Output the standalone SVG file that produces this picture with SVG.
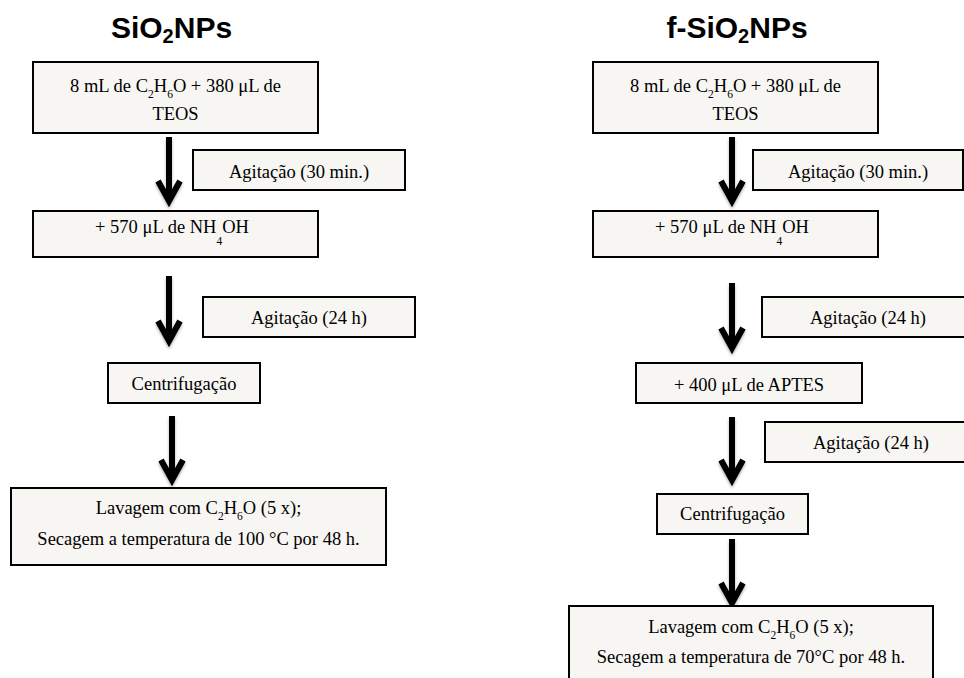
<svg xmlns="http://www.w3.org/2000/svg" width="964" height="678" viewBox="0 0 964 678">
<style>
.title{font-family:"Liberation Sans",Arial,sans-serif;font-weight:bold;font-size:30px;fill:#000;text-anchor:middle}
.box{fill:#f7f6f3;stroke:#000;stroke-width:2}
.t{font-family:"Liberation Serif","Times New Roman",serif;font-size:18.5px;fill:#000;text-anchor:middle}
.sub{font-size:11.5px}
.arrow{fill:none;stroke:#000;stroke-width:6;stroke-linejoin:miter;stroke-linecap:butt}
</style>
<defs>
<filter id="sh" x="-50%" y="-20%" width="200%" height="140%">
<feDropShadow dx="0" dy="2" stdDeviation="1.5" flood-color="#000" flood-opacity="0.3"/>
</filter>
</defs>
<rect width="964" height="678" fill="#fff"/>

<g id="title-left"><text class="title" x="171.5" y="38">SiO<tspan font-size="20" dy="5">2</tspan><tspan dy="-5">NPs</tspan></text></g>
<g id="title-right"><text class="title" x="737" y="38">f-SiO<tspan font-size="20" dy="5">2</tspan><tspan dy="-5">NPs</tspan></text></g>

<g id="connectors" filter="url(#sh)">
<path class="arrow" d="M169 137V200M158 181L169 201L180 181"/>
<path class="arrow" d="M169 276V340M158 321L169 341L180 321"/>
<path class="arrow" d="M172 416V479M161 460L172 480L183 460"/>
<path class="arrow" d="M732 137V200M721 181L732 201L743 181"/>
<path class="arrow" d="M732 283V347M721 328L732 348L743 328"/>
<path class="arrow" d="M732 417V479M721 460L732 480L743 460"/>
<path class="arrow" d="M732 539V602M721 583L732 603L743 583"/>
</g>

<g id="L1"><rect class="box" x="33" y="62" width="285" height="71"/>
<text class="t" x="175.5" y="92">8 mL de C<tspan class="sub" dy="6">2</tspan><tspan dy="-6">H</tspan><tspan class="sub" dy="6">6</tspan><tspan dy="-6">O + 380 μL de</tspan></text>
<text class="t" x="175.5" y="120">TEOS</text></g>
<g id="L-ag1"><rect class="box" x="193" y="150" width="212" height="40"/><text class="t" x="299" y="178">Agitação (30 min.)</text></g>
<g id="L2"><rect class="box" x="33" y="211" width="285" height="46"/>
<text class="t" x="172" y="233">+ 570 μL de NH<tspan class="sub" dy="12">4</tspan><tspan dy="-12">OH</tspan></text></g>
<g id="L-ag2"><rect class="box" x="203" y="297" width="212" height="40"/><text class="t" x="309" y="324">Agitação (24 h)</text></g>
<g id="L3"><rect class="box" x="108" y="363" width="152" height="40"/><text class="t" x="184" y="390">Centrifugação</text></g>
<g id="L4"><rect class="box" x="11" y="488" width="375" height="77"/>
<text class="t" x="198.5" y="514">Lavagem com C<tspan class="sub" dy="6">2</tspan><tspan dy="-6">H</tspan><tspan class="sub" dy="6">6</tspan><tspan dy="-6">O (5 x);</tspan></text>
<text class="t" x="198.5" y="545">Secagem a temperatura de 100 °C por 48 h.</text></g>

<g id="R1"><rect class="box" x="593" y="62" width="285" height="71"/>
<text class="t" x="735.5" y="92">8 mL de C<tspan class="sub" dy="6">2</tspan><tspan dy="-6">H</tspan><tspan class="sub" dy="6">6</tspan><tspan dy="-6">O + 380 μL de</tspan></text>
<text class="t" x="735.5" y="120">TEOS</text></g>
<g id="R-ag1"><rect class="box" x="753" y="150" width="210" height="40"/><text class="t" x="858" y="178">Agitação (30 min.)</text></g>
<g id="R2"><rect class="box" x="593" y="211" width="285" height="46"/>
<text class="t" x="732" y="233">+ 570 μL de NH<tspan class="sub" dy="12">4</tspan><tspan dy="-12">OH</tspan></text></g>
<g id="R-ag2"><rect class="box" x="762" y="297" width="212" height="40"/><text class="t" x="868" y="324">Agitação (24 h)</text></g>
<g id="R3"><rect class="box" x="636" y="363" width="226" height="40"/><text class="t" x="749" y="391">+ 400 μL de APTES</text></g>
<g id="R-ag3"><rect class="box" x="765" y="422" width="212" height="40"/><text class="t" x="871" y="449">Agitação (24 h)</text></g>
<g id="R4"><rect class="box" x="657" y="494" width="151" height="40"/><text class="t" x="732.5" y="520">Centrifugação</text></g>
<g id="R5"><rect class="box" x="569" y="606" width="364" height="90"/>
<text class="t" x="751" y="633">Lavagem com C<tspan class="sub" dy="6">2</tspan><tspan dy="-6">H</tspan><tspan class="sub" dy="6">6</tspan><tspan dy="-6">O (5 x);</tspan></text>
<text class="t" x="751" y="663">Secagem a temperatura de 70°C por 48 h.</text></g>
</svg>
